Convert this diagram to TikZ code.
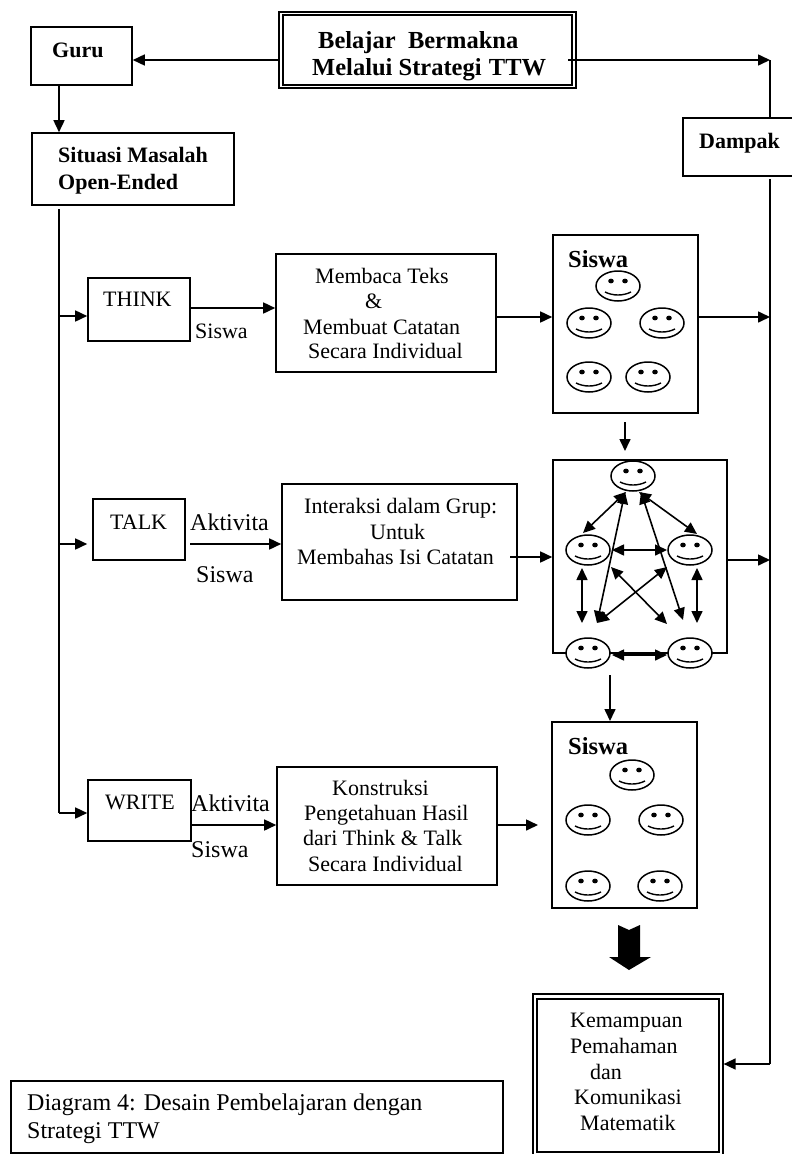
\documentclass[tikz,border=0pt]{standalone}
\usepackage{fontspec}
\setmainfont{Liberation Serif}
\usetikzlibrary{arrows.meta,fit,shapes.geometric}
\tikzset{
  x=1pt,y=-1pt,
  box/.style={draw=black,line width=1.6pt,fill=white,inner sep=0pt},
  thin box/.style={draw=black,line width=1.2pt,inner sep=0pt},
  arr/.style={draw=black,line width=1.6pt,-{Triangle[length=12pt,width=11pt]}},
  darr/.style={draw=black,line width=1.6pt,{Triangle[length=12pt,width=11pt]}-{Triangle[length=12pt,width=11pt]}},
  plain/.style={draw=black,line width=1.6pt},
  face/.style={ellipse,draw=black,line width=1.5pt,fill=white,minimum width=44pt,minimum height=30pt,inner sep=0pt},
  tx/.style={anchor=base west,inner sep=0pt,font=\fontsize{22}{26}\selectfont},
  txl/.style={anchor=base west,inner sep=0pt,font=\fontsize{24}{28}\selectfont},
  bx/.style={anchor=base west,inner sep=0pt,font=\fontsize{22}{26}\selectfont\bfseries},
  bxl/.style={anchor=base west,inner sep=0pt,font=\fontsize{24.5}{28}\selectfont\bfseries},
}
\newcommand{\fc}[3]{%
  \node[face] (#1) at (#2,#3) {};
  \fill[black] (#2-7,#3-5) ellipse (2.8pt and 2.4pt);
  \fill[black] (#2+7,#3-5) ellipse (2.8pt and 2.4pt);
  \draw[black,line width=1.4pt] (#2-13,#3+6) .. controls (#2-5,#3+10) and (#2+5,#3+10) .. (#2+13,#3+6);
}
\begin{document}
\begin{tikzpicture}
\useasboundingbox (0,0) rectangle (792,1154);
\clip (0,0) rectangle (792,1154);
% rails
\coordinate (r60) at (0,60);
\coordinate (r316) at (0,316);
\coordinate (r308) at (0,308);
\coordinate (r317) at (0,317);
\coordinate (r544) at (0,544);
\coordinate (r557) at (0,557);
\coordinate (r560) at (0,560);
\coordinate (r813) at (0,813);
\coordinate (r825) at (0,825);
\coordinate (r1064) at (0,1064);
\coordinate (xl) at (59,0);
\coordinate (xr) at (770,0);
\coordinate (j1) at (770,60);
\coordinate (j2) at (770,1064);
\coordinate (a1) at (59,209);
\coordinate (a2) at (59,813);
\coordinate (k1) at (538,825);
\coordinate (k2) at (510,557);
\coordinate (k3) at (568,60);
\coordinate (k4) at (625,422);
\coordinate (k5) at (625,451);
\coordinate (k6) at (610,675);
\coordinate (k7) at (610,721);
\coordinate (k8) at (770,179);
\coordinate (k9) at (190,544);
\coordinate (k10) at (770,118);
% boxes
\node[box,fit={(31,27)(132,85)}] (guru) {};
\node[thin box,fit={(279,12)(576,88)}] (bigO) {};
\node[thin box,fit={(283,15)(572,85)}] (bigI) {};
\node[box,fit={(683,118)(800,176)}] (damp) {};
\node[box,fit={(32,133)(234,205)}] (sit) {};
\node[box,fit={(88,278)(190,341)}] (think) {};
\node[box,fit={(276,254)(496,372)}] (memb) {};
\node[box,fit={(553,235)(698,413)}] (s1) {};
\node[box,fit={(93,499)(185,560)}] (talk) {};
\node[box,fit={(282,484)(517,600)}] (inter) {};
\node[box,fit={(553,460)(727,653)}] (s2) {};
\node[box,fit={(88,780)(191,841)}] (write) {};
\node[box,fit={(277,767)(497,885)}] (kons) {};
\node[box,fit={(552,722)(697,908)}] (s3) {};
\node[thin box,fit={(533,994)(723,1158)}] (kemO) {};
\node[thin box,fit={(537,999)(719,1152)}] (kemI) {};
\node[box,fit={(11,1081)(503,1153)}] (cap) {};
% labels
\node[bx] (tGuru) at (52,57) {Guru};
\node[bxl] (tB1) at (318,48) {Belajar\hspace{0.5em}Bermakna};
\node[bxl] (tB2) at (312,75) {Melalui Strategi\hspace{0.3em}TTW};
\node[bx] (tS1) at (58,162) {Situasi Masalah};
\node[bx] (tS2) at (58,189) {Open-Ended};
\node[bx] (tD) at (699,148) {Dampak};
\node[tx] (tThink) at (103,306) {THINK};
\node[tx] (tSis1) at (195,338) {Siswa};
\node[tx] (m1) at (315,283) {Membaca Teks};
\node[tx] (m2) at (365,308) {\&};
\node[tx] (m3) at (303,334) {Membuat Catatan};
\node[tx] (m4) at (308,358) {Secara Individual};
\node[bxl] (tS1a) at (568,267) {Siswa};
\node[tx] (tTalk) at (110,529) {TALK};
\node[txl] (tAk1) at (190,530) {Aktivita};
\node[txl] (tSis2) at (196,582) {Siswa};
\node[tx] (i1) at (304,513) {Interaksi dalam Grup:};
\node[tx] (i2) at (370,539) {Untuk};
\node[tx] (i3) at (297,564) {Membahas Isi Catatan};
\node[tx] (tWrite) at (105,809) {WRITE};
\node[txl] (tAk2) at (191,811) {Aktivita};
\node[txl] (tSis3) at (191,857) {Siswa};
\node[tx] (c1) at (332,795) {Konstruksi};
\node[tx] (c2) at (304,820) {Pengetahuan Hasil};
\node[tx] (c3) at (303,845) {dari Think \& Talk};
\node[tx] (c4) at (308,871) {Secara Individual};
\node[bxl] (tS3a) at (568,754) {Siswa};
\node[tx] (e1) at (570,1027) {Kemampuan};
\node[tx] (e2) at (570,1053) {Pemahaman};
\node[tx] (e3) at (590,1079) {dan};
\node[tx] (e4) at (574,1104) {Komunikasi};
\node[tx] (e5) at (580,1130) {Matematik};
\node[txl] (d1) at (27,1110) {Diagram 4: Desain Pembelajaran dengan};
\node[txl] (d2) at (27,1138) {Strategi TTW};
% faces
\fc{f1}{618}{286}\fc{f2}{589}{323}\fc{f3}{662}{323}\fc{f4}{589}{377}\fc{f5}{648}{377}
\fc{g1}{633}{476}\fc{g2}{588}{550}\fc{g3}{690}{550}\fc{g4}{588}{653}\fc{g5}{690}{653}
\fc{h1}{632}{775}\fc{h2}{588}{820}\fc{h3}{661}{820}\fc{h4}{588}{886}\fc{h5}{660}{886}
% connectors
\draw[arr] (bigO.west |- r60) -- (guru.east |- r60);
\draw[arr] (k3) -- (j1);
\draw[plain] (j1) -- (k10);
\draw[arr] (guru.south -| xl) -- (sit.north -| xl);
\draw[plain] (k8) -- (j2);
\draw[arr] (j2) -- (kemO.east |- r1064);
\draw[plain] (a1) -- (a2);
\draw[arr] (xl |- r316) -- (think.west |- r316);
\draw[arr] (think.east |- r308) -- (memb.west |- r308);
\draw[arr] (memb.east |- r317) -- (s1.west |- r317);
\draw[arr] (s1.east |- r317) -- (xr |- r317);
\draw[arr] (k4) -- (k5);
\draw[arr] (xl |- r544) -- ([xshift=-5pt]talk.west |- r544);
\draw[arr] (k9) -- (inter.west |- r544);
\draw[arr] (k2) -- (s2.west |- r557);
\draw[arr] (s2.east |- r560) -- (xr |- r560);
\draw[arr] (k6) -- (k7);
\draw[arr] (a2) -- (write.west |- r813);
\draw[arr] (write.east |- r825) -- (kons.west |- r825);
\draw[arr] (kons.east |- r825) -- (k1);
% group arrows
\draw[darr] ([shift={(-7,16)}]g1.center) -- ([shift={(-5,-17)}]g2.center);
\draw[darr] ([shift={(6,16)}]g1.center) -- ([shift={(7,-16)}]g3.center);
\draw[darr] ([shift={(-8,16)}]g1.center) -- ([shift={(9,-30)}]g4.center);
\draw[darr] ([shift={(8,16)}]g1.center) -- ([shift={(-7,-33)}]g5.center);
\draw[darr] ([shift={(24,0)}]g2.center) -- ([shift={(-23,0)}]g3.center);
\draw[darr] ([shift={(-6,18)}]g2.center) -- ([shift={(-6,-30)}]g4.center);
\draw[darr] ([shift={(7,18)}]g3.center) -- ([shift={(7,-30)}]g5.center);
\draw[darr] ([shift={(23,17)}]g2.center) -- ([shift={(-23,-29)}]g5.center);
\draw[darr] ([shift={(-23,17)}]g3.center) -- ([shift={(9,-30)}]g4.center);
\draw[darr] ([shift={(24,2)}]g4.center) -- ([shift={(-23,2)}]g5.center);
% block arrow
\fill[black] (618,925) -- (629,930) -- (640,925) -- (640,957) -- (651,957) -- (629,970) -- (609,957) -- (618,957) -- cycle;
\end{tikzpicture}
\end{document}
